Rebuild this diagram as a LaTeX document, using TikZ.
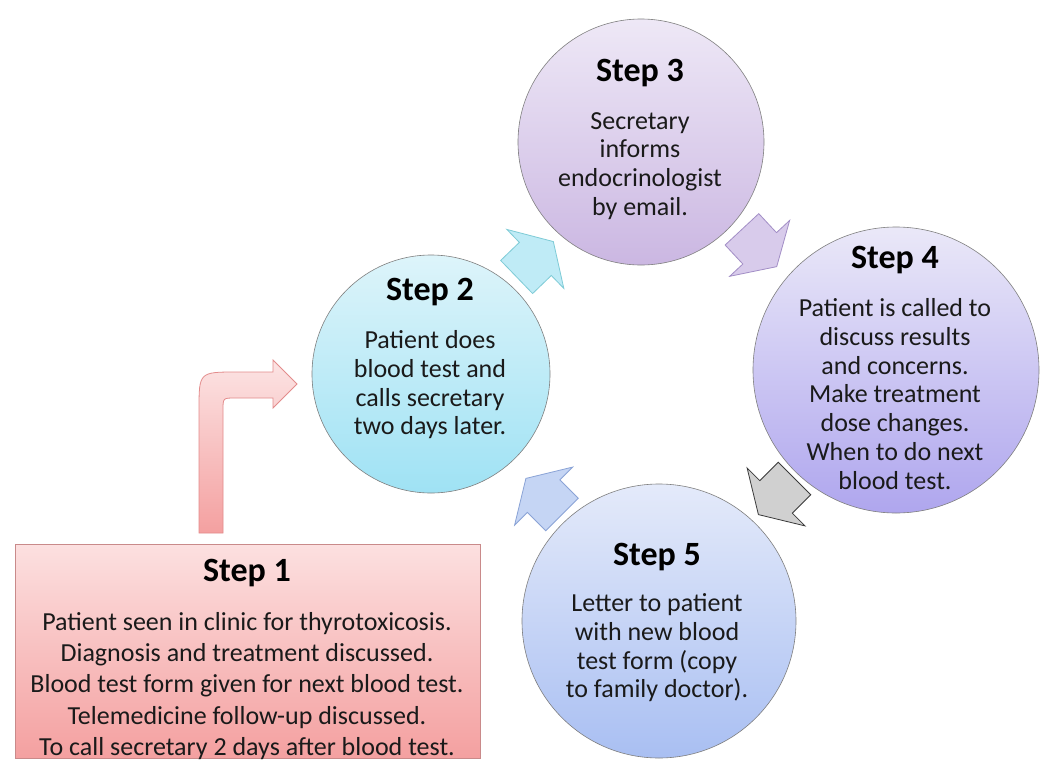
\documentclass[tikz,border=0pt]{standalone}
\usepackage{fontspec}
\setmainfont{Carlito}
\usetikzlibrary{calc}

\definecolor{circline}{HTML}{7F7F7F}
\definecolor{bodytext}{HTML}{1A1A1A}
\definecolor{boxline}{HTML}{C98A8A}
\definecolor{sonetop}{HTML}{FCE0E0}
\definecolor{sonebot}{HTML}{F4A0A0}
\definecolor{stwotop}{HTML}{DDF4FA}
\definecolor{stwobot}{HTML}{9FE2F4}
\definecolor{sthreetop}{HTML}{EEE8F6}
\definecolor{sthreebot}{HTML}{CBB7E2}
\definecolor{sfourtop}{HTML}{EAE8F8}
\definecolor{sfourbot}{HTML}{AFA6EE}
\definecolor{sfivetop}{HTML}{E4EAFA}
\definecolor{sfivebot}{HTML}{A9BFF2}

\begin{document}
\begin{tikzpicture}[
                    x=1pt, y=-1pt,
                    stepcircle/.style={draw=circline, circle, inner sep=0pt, line width=0.6pt},
                    steptitle/.style={font=\fontsize{34}{40}\selectfont\bfseries},
                    stepbody/.style={align=center, text=bodytext, font=\fontsize{26}{28.7}\selectfont},
                    cyclearrow/.pic={\draw[pic actions, line width=0.8pt, line join=miter] (-24,23) -- (2,23) -- (2,41) -- (27,0) -- (2,-41) -- (2,-23) -- (-24,-23) -- cycle;}
                    ]

                    \useasboundingbox[fill=white] (0,0) rectangle (1055,769);

                    \node[draw=boxline, top color=sonetop, bottom color=sonebot, minimum width=465pt, minimum height=214pt, inner sep=0pt] (s1) at (247.5,651) {};
                    \node[steptitle] (t1) at (247,573) {Step 1};
                    \node[stepbody, font=\fontsize{26}{31.3}\selectfont] (b1) at (247,686) {Patient seen in clinic for thyrotoxicosis.\\Diagnosis and treatment discussed.\\Blood test form given for next blood test.\\Telemedicine follow-up discussed.\\To call secretary 2 days after blood test.};

                    \node[stepcircle, minimum size=238pt, top color=stwotop, bottom color=stwobot] (s2) at (431,374) {};
                    \node[steptitle] (t2) at (430,292) {Step 2};
                    \node[stepbody] (b2) at (430,385) {Patient does\\blood test and\\calls secretary\\two days later.};

                    \node[stepcircle, minimum size=246pt, top color=sthreetop, bottom color=sthreebot] (s3) at (641,142) {};
                    \node[steptitle] (t3) at (640,73) {Step 3};
                    \node[stepbody] (b3) at (640,166) {Secretary\\informs\\endocrinologist\\by email.};

                    \node[stepcircle, minimum size=286pt, top color=sfourtop, bottom color=sfourbot] (s4) at (896,370) {};
                    \node[steptitle] (t4) at (895,260) {Step 4};
                    \node[stepbody] (b4) at (895,394) {Patient is called to\\discuss results\\and concerns.\\Make treatment\\dose changes.\\When to do next\\blood test.};

                    \node[stepcircle, minimum size=274pt, top color=sfivetop, bottom color=sfivebot] (s5) at (659,621) {};
                    \node[steptitle] (t5) at (657,557) {Step 5};
                    \node[stepbody] (b5) at (657,648) {Letter to patient\\with new blood\\test form (copy\\to family doctor).};

                    % bent arrow from step 1 up to step 2
                    \draw[draw={rgb,255:red,227;green,140;blue,140}, top color={rgb,255:red,252;green,228;blue,228}, bottom color=sonebot, line width=0.8pt]
                        (199,533) -- (199,410) .. controls (199,372) .. (237,372) -- (273,372) -- (273,360) -- (297,384)
                        -- (273,408) -- (273,398) -- (235,398) .. controls (223,398) .. (223,410) -- (223,533) -- cycle;

                    % cycle arrows
                    \pic[rotate=44, fill={rgb,255:red,191;green,235;blue,246}, draw={rgb,255:red,126;green,203;blue,214}] at ($(s2)!0.49!(s3)$) {cyclearrow};
                    \pic[rotate=-47, fill={rgb,255:red,216;green,203;blue,235}, draw={rgb,255:red,162;green,142;blue,198}] at ($(s3)!0.46!(s4)$) {cyclearrow};
                    \pic[rotate=-135, fill={rgb,255:red,208;green,208;blue,208}, draw={rgb,255:red,58;green,58;blue,58}] at ($(s4)!0.5!(s5)$) {cyclearrow};
                    \pic[rotate=135, fill={rgb,255:red,197;green,213;blue,244}, draw={rgb,255:red,138;green,163;blue,214}] at ($(s5)!0.5!(s2)$) {cyclearrow};

\end{tikzpicture}
\end{document}
